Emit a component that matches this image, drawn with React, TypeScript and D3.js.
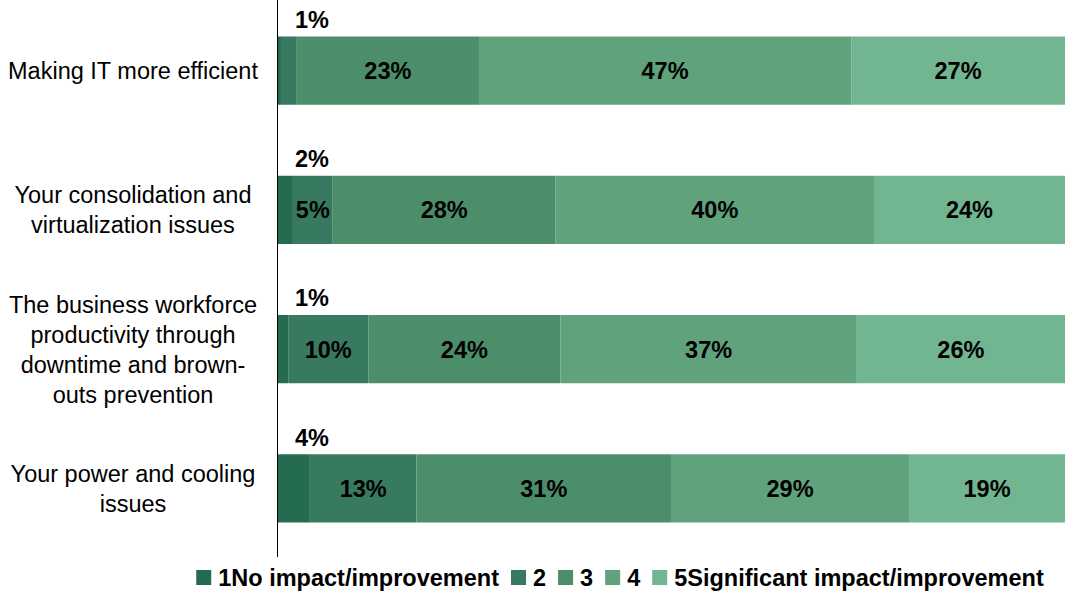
import React from "react";
import * as d3 from "d3";

const categories: string[][] = [
  ["Making IT more efficient"],
  ["Your consolidation and", "virtualization issues"],
  ["The business workforce", "productivity through", "downtime and brown-", "outs prevention"],
  ["Your power and cooling", "issues"],
];
const seriesNames = ["1No impact/improvement", "2", "3", "4", "5Significant impact/improvement"];
const s1 = [0.5, 2, 1.4, 4];
const s2 = [2, 5, 10, 13];
const s3 = [23, 28, 24, 31];
const s4 = [47, 40, 37, 29];
const s5 = [27, 24, 26, 19];
const colors = ["#256b4f", "#387a60", "#4c8e6a", "#5fa27c", "#72b591"];

const W = 1065;
const H = 591;
const FONT = "'Liberation Sans', Arial, sans-serif";

export default function App() {
  const series = [s1, s2, s3, s4, s5];
  const rows = categories.map((_, i) => series.map((s) => s[i]));
  const x = d3.scaleLinear().domain([0, 1]).range([277, 1065]);
  const y = d3
    .scaleBand<number>()
    .domain(d3.range(categories.length))
    .range([1, 558])
    .paddingInner(0.51)
    .paddingOuter(0.255);
  const bh = y.bandwidth();

  const sq = 15;
  const fs = 23.5;
  const legendWidths = seriesNames.map((n) => {
    const ctx = typeof document !== "undefined" ? document.createElement("canvas").getContext("2d") : null;
    if (ctx) {
      ctx.font = `bold ${fs}px ${FONT}`;
      return ctx.measureText(n).width;
    }
    return n.length * 12;
  });
  const itemGap = 12;
  const textGap = 7;
  const totalW = legendWidths.reduce((a, w) => a + sq + textGap + w, 0) + itemGap * (seriesNames.length - 1);
  let lx = 620 - totalW / 2;
  const legendItems = seriesNames.map((n, i) => {
    const it = { x: lx, name: n, color: colors[i] };
    lx += sq + textGap + legendWidths[i] + itemGap;
    return it;
  });

  return (
    <svg
      width={W}
      height={H}
      style={{ position: "absolute", left: 0, top: 0, background: "#fff" }}
      fontFamily={FONT}
    >
      {rows.map((vals, i) => {
        const total = d3.sum(vals);
        const stack = d3.cumsum([0, ...vals]);
        const y0 = y(i)!;
        return (
          <g key={i}>
            {vals.map((v, j) => {
              const xa = x(stack[j] / total);
              const xb = x(stack[j + 1] / total);
              return <rect key={j} x={xa} y={y0} width={xb - xa} height={bh} fill={colors[j]} />;
            })}
            {vals.map((v, j) =>
              j > 0 && v >= 5 ? (
                <text
                  key={"t" + j}
                  x={(x(stack[j] / total) + x(stack[j + 1] / total)) / 2}
                  y={y0 + bh / 2}
                  dy="0.36em"
                  textAnchor="middle"
                  fontSize={fs}
                  fontWeight="bold"
                  fill="#000"
                >
                  {Math.round(v)}%
                </text>
              ) : null
            )}
            <text
              x={x(0) + 35}
              y={y0 - 17}
              dy="0.36em"
              textAnchor="middle"
              fontSize={fs}
              fontWeight="bold"
              fill="#000"
            >
              {Math.round(vals[0])}%
            </text>
            {categories[i].map((line, k) => (
              <text
                key={"c" + k}
                x={133}
                y={y0 + bh / 2 + (k - (categories[i].length - 1) / 2) * 30}
                dy="0.36em"
                textAnchor="middle"
                fontSize={fs}
                fill="#000"
              >
                {line}
              </text>
            ))}
          </g>
        );
      })}
      <line x1={277.5} x2={277.5} y1={0} y2={557} stroke="#000" strokeWidth={1} />
      {legendItems.map((it, i) => (
        <g key={i}>
          <rect x={it.x} y={570} width={sq} height={sq} fill={it.color} />
          <text x={it.x + sq + textGap} y={577.5} dy="0.36em" fontSize={fs} fontWeight="bold" fill="#000">
            {it.name}
          </text>
        </g>
      ))}
    </svg>
  );
}
